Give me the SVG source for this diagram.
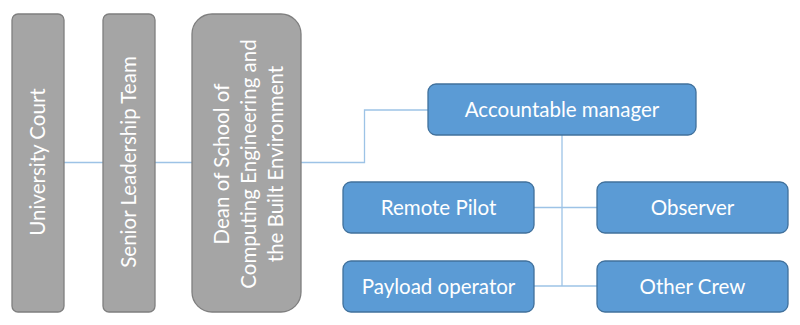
<svg xmlns="http://www.w3.org/2000/svg" width="800" height="325" viewBox="0 0 800 325">
<style>
.g{fill:#A5A5A5;stroke:#7F7F7F;stroke-width:1.3}
.b{fill:#5B9BD5;stroke:#41719C;stroke-width:1.3}
.t{fill:#FFFFFF;font-family:Lato,"Open Sans","Liberation Sans",sans-serif;font-size:20.5px;text-anchor:middle;dominant-baseline:central}
.c{fill:none;stroke:#9DC3E6;stroke-width:1.3}
</style>
<rect width="800" height="325" fill="#FFFFFF"/>
<g id="connectors">
<line class="c" x1="64" y1="162.5" x2="103" y2="162.5"/>
<line class="c" x1="155" y1="162.5" x2="192" y2="162.5"/>
<polyline class="c" points="301,162.5 364.5,162.5 364.5,110 428,110"/>
<line class="c" x1="562" y1="135" x2="562" y2="286"/>
<line class="c" x1="534" y1="207.5" x2="597" y2="207.5"/>
<line class="c" x1="534" y1="286" x2="597" y2="286"/>
</g>
<g id="university-court">
<rect class="g" x="12" y="14" width="52" height="298" rx="6"/>
<text class="t" transform="translate(37,162) rotate(-90)">University Court</text>
</g>
<g id="senior-leadership-team">
<rect class="g" x="103" y="14" width="52" height="298" rx="6"/>
<text class="t" transform="translate(128,162) rotate(-90)">Senior Leadership Team</text>
</g>
<g id="dean">
<rect class="g" x="192" y="14" width="109" height="298" rx="20"/>
<text class="t" transform="translate(248,164) rotate(-90)"><tspan x="0" y="-27">Dean of School of</tspan><tspan x="0" y="0">Computing Engineering and</tspan><tspan x="0" y="27">the Built Environment</tspan></text>
</g>
<g id="accountable-manager">
<rect class="b" x="428" y="84" width="268" height="51" rx="8"/>
<text class="t" x="562" y="108.5">Accountable manager</text>
</g>
<g id="remote-pilot">
<rect class="b" x="343" y="182" width="191" height="51" rx="8"/>
<text class="t" x="438.5" y="206.5">Remote Pilot</text>
</g>
<g id="observer">
<rect class="b" x="597" y="182" width="191" height="51" rx="8"/>
<text class="t" x="692.5" y="206.5">Observer</text>
</g>
<g id="payload-operator">
<rect class="b" x="343" y="261" width="191" height="51" rx="8"/>
<text class="t" x="438.5" y="285.5">Payload operator</text>
</g>
<g id="other-crew">
<rect class="b" x="597" y="261" width="191" height="51" rx="8"/>
<text class="t" x="692.5" y="285.5">Other Crew</text>
</g>
</svg>
